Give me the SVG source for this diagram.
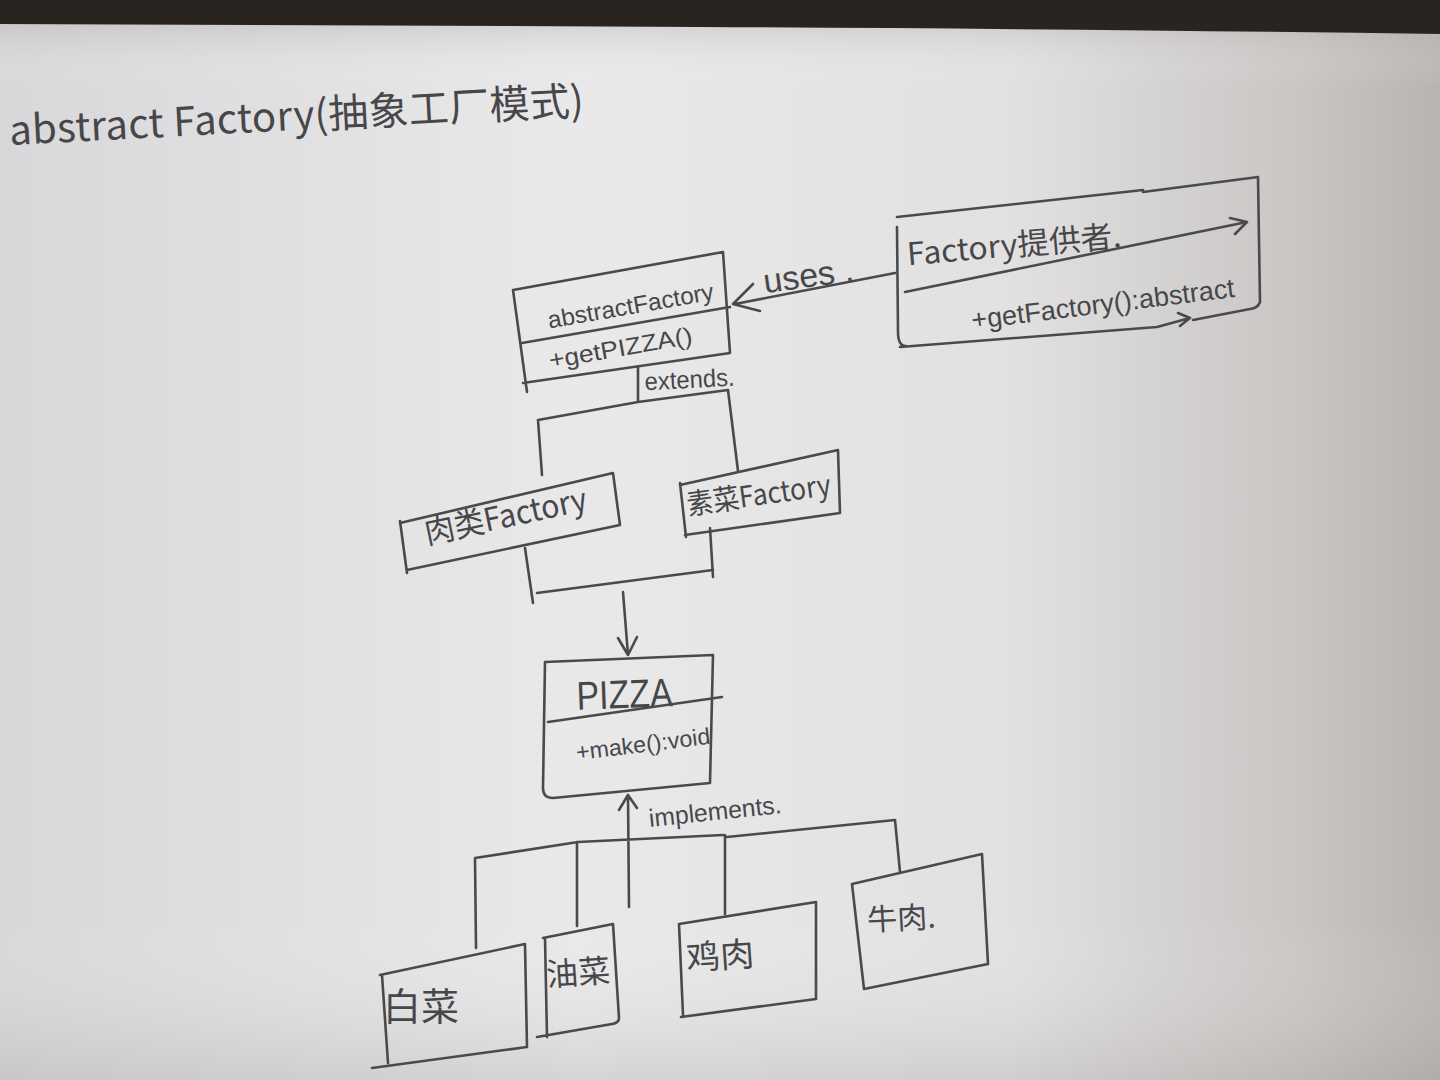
<svg xmlns="http://www.w3.org/2000/svg" width="1440" height="1080" viewBox="0 0 1440 1080">
<defs>
<linearGradient id="paperH" x1="0" y1="0" x2="1" y2="0">
<stop offset="0" stop-color="#d8d7d9"/>
<stop offset="0.4" stop-color="#e9e9ea"/>
<stop offset="0.7" stop-color="#e2e1e1"/>
<stop offset="0.9" stop-color="#c9c6c4"/>
<stop offset="1" stop-color="#b8b4b1"/>
</linearGradient>
<linearGradient id="paperV" x1="0" y1="0" x2="0" y2="1">
<stop offset="0" stop-color="#8a8582" stop-opacity="0.45"/>
<stop offset="0.08" stop-color="#ffffff" stop-opacity="0"/>
<stop offset="0.85" stop-color="#ffffff" stop-opacity="0"/>
<stop offset="1" stop-color="#9a9592" stop-opacity="0.25"/>
</linearGradient>
<style>
.ln{fill:none;stroke:#4a4a4d;stroke-width:2.6;stroke-linecap:round;stroke-linejoin:round}
.tx{fill:#47474a;font-family:"Liberation Sans","Noto Sans CJK SC",sans-serif}
.cj{fill:#47474a;font-family:"Noto Sans CJK SC",sans-serif}
</style>
</defs>
<rect width="1440" height="1080" fill="url(#paperH)"/>
<rect width="1440" height="1080" fill="url(#paperV)"/>
<path d="M0,0 H1440 V34 Q1100,29 700,27 Q300,25 0,24 Z" fill="#2a2421"/>

<g id="title">
<text class="cj" x="10" y="145" font-size="40" fill="#555558" textLength="575" lengthAdjust="spacing" transform="rotate(-3 10 145)">abstract Factory(抽象工厂模式)</text>
</g>

<g id="abstractFactory">
<path class="ln" d="M513,290 L723,252 L730,353 L523,383 M513,290 L527,392 M522,343 L730,307"/>
<text class="tx" x="0" y="0" font-size="24" text-anchor="middle" textLength="168" lengthAdjust="spacingAndGlyphs" transform="translate(632,314) rotate(-10)">abstractFactory</text>
<text class="tx" x="0" y="0" font-size="24" text-anchor="middle" textLength="145" lengthAdjust="spacingAndGlyphs" transform="translate(622,356) rotate(-10)">+getPIZZA()</text>
</g>

<g id="factoryProvider">
<path class="ln" d="M897,217 L1143,190 M1143,192 L1258,177 L1260,302 Q1258,308 1250,309 L1193,320 M900,347 L1157,327 L1190,318 M1178,313 L1190,318 L1180,326 M897,227 L898,332 Q898,346 906,346 M905,292 L1247,222 M1230,218 L1247,222 L1235,234"/>
<text class="cj" x="0" y="0" font-size="31" text-anchor="middle" textLength="215" lengthAdjust="spacingAndGlyphs" transform="translate(1015,256) rotate(-5)">Factory提供者.</text>
<text class="tx" x="0" y="0" font-size="27" text-anchor="middle" textLength="265" lengthAdjust="spacingAndGlyphs" transform="translate(1104,313) rotate(-7)">+getFactory():abstract</text>
</g>

<g id="meatFactory">
<path class="ln" d="M400,523 L613,473 L620,525 L407,570 M400,521 L407,573"/>
<text class="cj" x="0" y="0" font-size="32" text-anchor="middle" textLength="165" lengthAdjust="spacingAndGlyphs" transform="translate(508,527) rotate(-12)">肉类Factory</text>
</g>

<g id="vegFactory">
<path class="ln" d="M680,485 L838,450 L840,513 L685,535 M680,483 L686,537"/>
<text class="cj" x="0" y="0" font-size="29" text-anchor="middle" textLength="145" lengthAdjust="spacingAndGlyphs" transform="translate(760,505) rotate(-8)">素菜Factory</text>
</g>

<g id="pizza">
<path class="ln" d="M545,662 L713,655 L710,783 L553,798 Q543,798 543,788 L545,662 M548,722 L722,697"/>
<text class="tx" x="0" y="0" font-size="40" text-anchor="middle" textLength="96" lengthAdjust="spacingAndGlyphs" transform="translate(625,708) rotate(-2)">PIZZA</text>
<text class="tx" x="0" y="0" font-size="23" text-anchor="middle" textLength="135" lengthAdjust="spacingAndGlyphs" transform="translate(644,752) rotate(-7)">+make():void</text>
</g>

<g id="baicai">
<path class="ln" d="M380,975 L525,944 L527,1047 L372,1068 M382,975 L388,1063"/>
<text class="cj" x="421" y="1020" font-size="38" text-anchor="middle">白菜</text>
</g>

<g id="youcai">
<path class="ln" d="M543,938 L613,924 L619,1018 Q619,1023 612,1024 L537,1037 M545,938 L547,1037"/>
<text class="cj" x="0" y="0" font-size="32" text-anchor="middle" textLength="64" lengthAdjust="spacingAndGlyphs" transform="translate(579,984) rotate(-4)">油菜</text>
</g>

<g id="jirou">
<path class="ln" d="M679,924 L816,902 L816,999 L681,1017 M679,924 L683,1015"/>
<text class="cj" x="0" y="0" font-size="34" text-anchor="middle" transform="translate(721,968) rotate(-4)">鸡肉</text>
</g>

<g id="niurou">
<path class="ln" d="M852,884 L982,854 L988,964 L864,989 M852,884 L864,989"/>
<text class="cj" x="0" y="0" font-size="30" text-anchor="middle" transform="translate(902,929) rotate(-3)">牛肉.</text>
</g>

<g id="connectors">
<path class="ln" d="M895,273 L735,304 M753,284 L733,304 L760,311"/>
<text class="tx" x="0" y="0" font-size="34" text-anchor="middle" transform="translate(810,287) rotate(-8)">uses .</text>
<path class="ln" d="M638,367 L638,402 L538,420 L542,475 M638,402 L728,390 L738,471"/>
<text class="tx" x="0" y="0" font-size="25" text-anchor="middle" textLength="90" lengthAdjust="spacingAndGlyphs" transform="translate(690,388) rotate(-3)">extends.</text>
<path class="ln" d="M525,548 L533,603 M537,593 L713,570 M710,528 L713,577 M623,592 L628,655 M618,638 L628,655 L637,637"/>
<path class="ln" d="M476,948 L475,858 L578,842 L723,835 M727,837 L895,820 L900,872 M577,842 L577,926 M725,835 L725,914 M629,907 L628,795 M619,810 L628,795 L637,808"/>
<text class="tx" x="0" y="0" font-size="25" text-anchor="middle" textLength="133" lengthAdjust="spacingAndGlyphs" transform="translate(716,820) rotate(-6)">implements.</text>
</g>
</svg>
